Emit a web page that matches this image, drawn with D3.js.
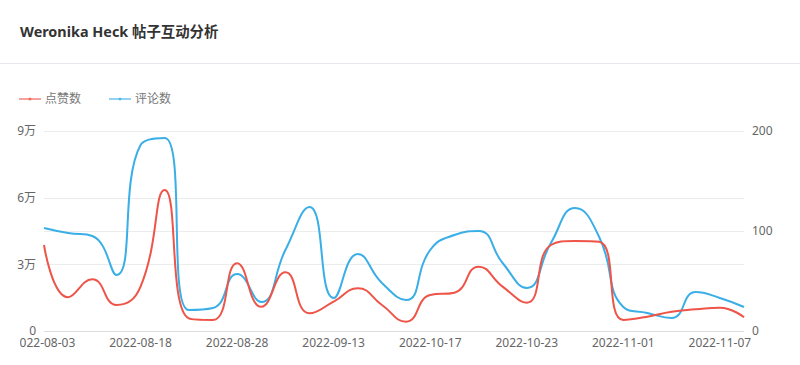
<!DOCTYPE html>
<meta charset="utf-8">
<style>
  body { margin: 0; background: #fff; }
</style>
<svg width="800" height="365" font-family="'Noto Sans', 'Noto Sans CJK SC', sans-serif" font-size="12"></svg>
<script src="https://cdn.jsdelivr.net/npm/d3@7/dist/d3.min.js"></script>
<script>

// post dates (only every 4th one is labelled on the axis)
var dates = ["2022-08-03", "2022-08-05", "2022-08-09", "2022-08-14", "2022-08-18", "2022-08-20",
             "2022-08-22", "2022-08-25", "2022-08-28", "2022-09-01", "2022-09-04", "2022-09-07",
             "2022-09-13", "2022-09-18", "2022-09-24", "2022-10-02", "2022-10-17", "2022-10-18",
             "2022-10-20", "2022-10-21", "2022-10-23", "2022-10-25", "2022-10-27", "2022-10-29",
             "2022-11-01", "2022-11-02", "2022-11-04", "2022-11-05", "2022-11-07", "2022-11-09"];

var likes = [38700, 15200, 23300, 11700, 20000, 63450, 5700, 5000, 30500, 10900,
             26400, 7950, 13200, 19200, 11700, 4200, 16200, 17250, 28950, 19950,
             12750, 38700, 40500, 40200, 4950, 6450, 8700, 9750, 10500, 6150];

var comments = [103, 98, 95, 56, 186, 193, 21, 23, 57, 29,
                81, 124, 33, 77, 48, 31, 81, 96, 100, 68,
                43, 88, 123, 94, 24, 18, 13, 39, 33, 24];

var leftTicks = [0, 30000, 60000, 90000],
    rightTicks = [0, 100, 200];

var seriesNames = ["点赞数", "评论数"],
    colors = ["#ee5448", "#3aaee6"];

var svg = d3.select("svg"),
    width = +svg.attr("width"),
    height = +svg.attr("height"),
    margin = {top: 131, right: 56, bottom: 34, left: 44};

// smoothing like echarts "smooth: true" (bezier with clamped control points)
function curveSmooth(context) {
  var pts;
  return {
    areaStart: function() {}, areaEnd: function() {},
    lineStart: function() { pts = []; },
    point: function(x, y) { pts.push([+x, +y]); },
    lineEnd: function() {
      var s = 0.5, n = pts.length, cp0x, cp0y;
      for (var i = 0; i < n; i++) {
        var x = pts[i][0], y = pts[i][1];
        if (i === 0) { context.moveTo(x, y); cp0x = x; cp0y = y; continue; }
        var px = pts[i - 1][0], py = pts[i - 1][1], cp1x, cp1y, ncx, ncy;
        if (i === n - 1) {
          cp1x = x; cp1y = y;
        } else {
          var nx = pts[i + 1][0], ny = pts[i + 1][1],
              vx = nx - px, vy = ny - py,
              lp = Math.hypot(x - px, y - py),
              ln = Math.hypot(nx - x, ny - y),
              r = ln / (ln + lp);
          ncx = x + vx * s * r;
          ncy = y + vy * s * r;
          ncx = Math.max(Math.min(ncx, Math.max(nx, x)), Math.min(nx, x));
          ncy = Math.max(Math.min(ncy, Math.max(ny, y)), Math.min(ny, y));
          cp1x = x - (ncx - x) * lp / ln;
          cp1y = y - (ncy - y) * lp / ln;
          cp1x = Math.max(Math.min(cp1x, Math.max(px, x)), Math.min(px, x));
          cp1y = Math.max(Math.min(cp1y, Math.max(py, y)), Math.min(py, y));
          ncx = x + (x - cp1x) * ln / lp;
          ncy = y + (y - cp1y) * ln / lp;
        }
        context.bezierCurveTo(cp0x, cp0y, cp1x, cp1y, x, y);
        cp0x = ncx; cp0y = ncy;
      }
    }
  };
}

svg.append("defs").append("clipPath")
    .attr("id", "clip")
  .append("rect")
    .attr("x", 20).attr("y", 0)
    .attr("width", width - 20).attr("height", height);

// title + divider
svg.append("text")
    .attr("x", 20)
    .attr("y", 37)
    .attr("font-size", 14.4)
    .attr("font-weight", "bold")
    .attr("fill", "#333")
    .text("Weronika Heck 帖子互动分析");

svg.append("line")
    .attr("x1", 0).attr("x2", width)
    .attr("y1", 63.5).attr("y2", 63.5)
    .attr("stroke", "#e6e8ee");

var x = d3.scalePoint()
    .domain(d3.range(dates.length))
    .range([margin.left, width - margin.right]);

var yL = d3.scaleLinear()
    .domain([0, 90000])
    .range([height - margin.bottom, margin.top]);

var yR = d3.scaleLinear()
    .domain([0, 200])
    .range([height - margin.bottom, margin.top]);

// grid lines from both axes
var gridVals = leftTicks.map(function(d) { return yL(d); })
    .concat(rightTicks.map(function(d) { return yR(d); }));
svg.append("g").selectAll("line")
  .data(gridVals)
  .enter().append("line")
    .attr("x1", margin.left)
    .attr("x2", width - margin.right)
    .attr("y1", function(d) { return Math.round(d) + 0.5; })
    .attr("y2", function(d) { return Math.round(d) + 0.5; })
    .attr("stroke", "#ececec");

svg.append("line")
    .attr("x1", margin.left).attr("x2", width - margin.right)
    .attr("y1", yL(0) + 0.5).attr("y2", yL(0) + 0.5)
    .attr("stroke", "#dcdcdc");

// left axis labels
svg.append("g").selectAll("text")
  .data(leftTicks)
  .enter().append("text")
    .attr("x", 36)
    .attr("y", function(d) { return yL(d); })
    .attr("dy", "0.35em")
    .attr("text-anchor", "end")
    .attr("fill", "#666")
    .text(function(d) { return d === 0 ? "0" : (d / 10000) + "万"; });

// right axis labels
svg.append("g").selectAll("text")
  .data(rightTicks)
  .enter().append("text")
    .attr("x", width - margin.right + 8)
    .attr("y", function(d) { return yR(d); })
    .attr("dy", "0.35em")
    .attr("fill", "#666")
    .text(function(d) { return d; });

// x labels, every 4th date (first one runs off the left edge)
svg.append("g")
    .attr("clip-path", "url(#clip)")
  .selectAll("text")
  .data(d3.range(0, dates.length, 4))
  .enter().append("text")
    .attr("x", function(i) { return x(i); })
    .attr("y", height - margin.bottom + 16)
    .attr("text-anchor", "middle")
    .attr("fill", "#666")
    .text(function(i) { return dates[i]; });

// lines
var lineL = d3.line()
    .x(function(d, i) { return x(i); })
    .y(function(d) { return yL(d); })
    .curve(curveSmooth);

var lineR = d3.line()
    .x(function(d, i) { return x(i); })
    .y(function(d) { return yR(d); })
    .curve(curveSmooth);

svg.append("path")
    .datum(comments)
    .attr("fill", "none")
    .attr("stroke", colors[1])
    .attr("stroke-width", 2)
    .attr("d", lineR);

svg.append("path")
    .datum(likes)
    .attr("fill", "none")
    .attr("stroke", colors[0])
    .attr("stroke-width", 2)
    .attr("d", lineL);

// legend
var legend = svg.append("g")
  .selectAll("g")
  .data(seriesNames)
  .enter().append("g")
    .attr("transform", function(d, i) { return "translate(" + (19 + i * 90) + ",99)"; });

legend.append("line")
    .attr("x1", 0).attr("x2", 22)
    .attr("stroke", function(d, i) { return colors[i]; })
    .attr("stroke-opacity", 0.55)
    .attr("stroke-width", 2);

legend.append("circle")
    .attr("cx", 11)
    .attr("r", 1.5)
    .attr("fill", function(d, i) { return colors[i]; })
    .attr("fill-opacity", 0.7);

legend.append("text")
    .attr("x", 26)
    .attr("dy", "0.35em")
    .attr("fill", "#777")
    .text(function(d) { return d; });

</script>
